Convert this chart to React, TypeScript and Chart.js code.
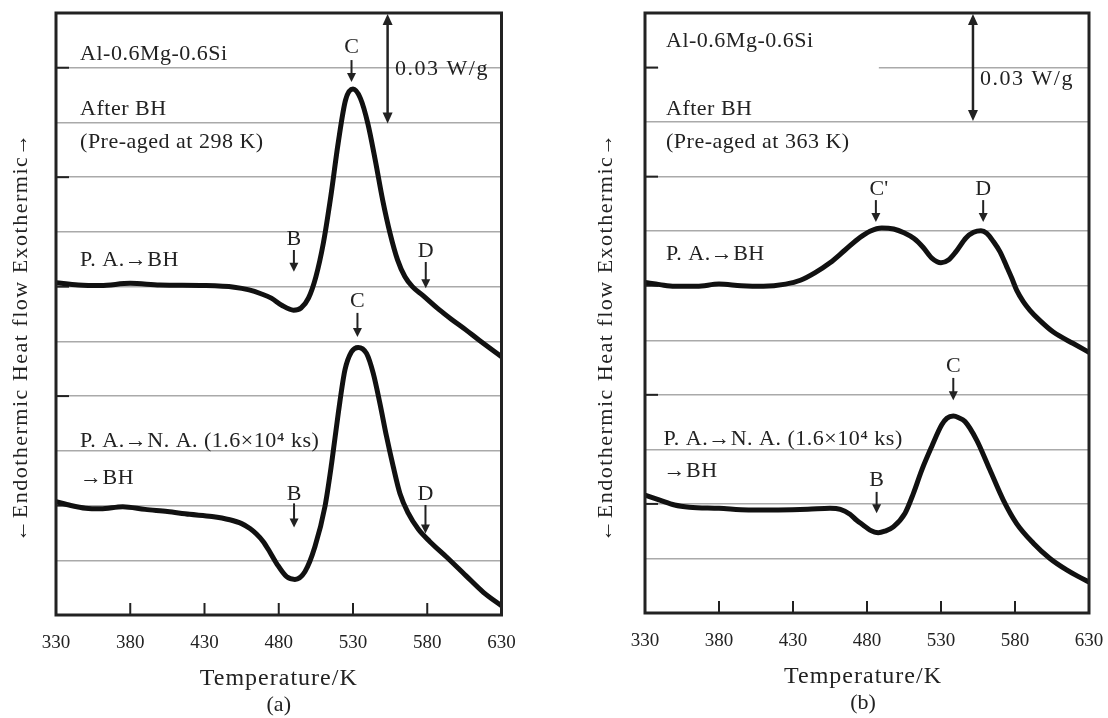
import React, { useEffect, useRef } from "react";
import { Chart, registerables } from "chart.js";

Chart.register(...registerables);

const FONT = "'Liberation Serif', 'DejaVu Serif', serif";
const INK = "#222";

// ---- axes ----
const TEMP_TICKS = [330, 380, 430, 480, 530, 580, 630];
const V_MIN = 0;
const V_MAX = 11;
const MAJOR_Y = [2, 4, 6, 8, 10];

// ---- (a) Pre-aged at 298 K ----
const A_UP_T = [330, 345, 360, 380, 400, 430, 450, 460, 468, 475, 482, 490, 495, 500, 505, 510, 515, 520, 525, 530, 535, 540, 545, 550, 555, 560, 565, 570, 577, 588, 596, 606, 615, 630];
const A_UP_V = [6.07, 6.03, 6.02, 6.06, 6.03, 6.02, 5.99, 5.94, 5.87, 5.79, 5.66, 5.57, 5.61, 5.79, 6.18, 6.79, 7.64, 8.62, 9.41, 9.61, 9.44, 8.98, 8.31, 7.58, 6.97, 6.49, 6.18, 6.0, 5.84, 5.58, 5.41, 5.21, 5.02, 4.72];
const A_LO_T = [330, 340, 350, 360, 375, 390, 405, 420, 435, 447, 455, 460.6, 465, 469.6, 474, 478.6, 485.3, 490.9, 497.6, 504.4, 511.1, 515.6, 520.1, 524.6, 529, 533.5, 539.1, 543.6, 548.1, 552.6, 557.1, 561.6, 567.2, 573.9, 581.8, 593, 606, 618, 630];
const A_LO_V = [2.07, 2.0, 1.95, 1.94, 1.98, 1.93, 1.89, 1.84, 1.8, 1.74, 1.67, 1.58, 1.48, 1.34, 1.15, 0.94, 0.7, 0.65, 0.79, 1.25, 1.98, 2.77, 3.69, 4.48, 4.81, 4.89, 4.78, 4.42, 3.87, 3.26, 2.71, 2.22, 1.86, 1.57, 1.34, 1.06, 0.72, 0.41, 0.17];

// ---- (b) Pre-aged at 363 K ----
const B_UP_T = [330, 340, 350, 365, 380, 395, 410, 425, 435, 445, 455, 465, 475, 482, 490, 498, 505, 512, 518, 524, 530, 535, 540, 547, 552, 557, 561, 565.4, 569.9, 574.4, 577.8, 581.1, 585.6, 590.1, 596.9, 605.9, 619.4, 630];
const B_UP_V = [6.06, 6.02, 5.99, 5.99, 6.03, 6.0, 5.99, 6.03, 6.1, 6.24, 6.42, 6.65, 6.88, 7.0, 7.06, 7.04, 6.97, 6.86, 6.7, 6.5, 6.42, 6.47, 6.62, 6.88, 6.98, 7.01, 6.96, 6.81, 6.62, 6.35, 6.14, 5.92, 5.71, 5.55, 5.36, 5.15, 4.94, 4.78];
const B_LO_T = [330, 340, 350, 360, 380, 400, 420, 440, 455, 462, 468.5, 473, 477.5, 482, 487.6, 492, 497.8, 505.7, 511.3, 517, 523.7, 530.5, 534, 538.3, 542, 546.2, 554.1, 563.1, 572.1, 581.1, 592.4, 603.6, 614.9, 622, 630];
const B_LO_V = [2.16, 2.07, 1.98, 1.94, 1.92, 1.89, 1.89, 1.9, 1.92, 1.9, 1.81, 1.7, 1.61, 1.52, 1.47, 1.5, 1.58, 1.83, 2.19, 2.62, 3.05, 3.45, 3.57, 3.61, 3.58, 3.51, 3.17, 2.62, 2.07, 1.64, 1.28, 1.0, 0.79, 0.68, 0.57];

// ---- annotations (data coordinates) ----
const A_TEXTS = [
  { s: "Al-0.6Mg-0.6Si", t: 346.2, v: 10.14 },
  { s: "After BH", t: 346.2, v: 9.14 },
  { s: "(Pre-aged at 298 K)", t: 346.2, v: 8.53 },
  { s: "P. A.→BH", t: 346.2, v: 6.38 },
  { s: "P. A.→N. A. (1.6×10⁴ ks)", t: 346.2, v: 3.07 },
  { s: "→BH", t: 346.2, v: 2.39 },
];
const B_TEXTS = [
  { s: "Al-0.6Mg-0.6Si", t: 344.2, v: 10.38 },
  { s: "After BH", t: 344.2, v: 9.13 },
  { s: "(Pre-aged at 363 K)", t: 344.2, v: 8.52 },
  { s: "P. A.→BH", t: 344.2, v: 6.47 },
  { s: "P. A.→N. A. (1.6×10⁴ ks)", t: 342.5, v: 3.08 },
  { s: "→BH", t: 342.5, v: 2.49 },
];
const A_MARKS = [
  { s: "C", t: 529, label: 10.27, top: 10.14, tip: 9.74 },
  { s: "B", t: 490.2, label: 6.76, top: 6.67, tip: 6.27 },
  { s: "D", t: 579, label: 6.54, top: 6.45, tip: 5.97 },
  { s: "C", t: 533, label: 5.63, top: 5.52, tip: 5.08 },
  { s: "B", t: 490.3, label: 2.1, top: 2.04, tip: 1.6 },
  { s: "D", t: 578.8, label: 2.1, top: 2.01, tip: 1.49 },
];
const B_MARKS = [
  { s: "C'", t: 486, label: 7.66, top: 7.57, tip: 7.17 },
  { s: "D", t: 558.5, label: 7.66, top: 7.57, tip: 7.17 },
  { s: "C", t: 538.3, label: 4.42, top: 4.31, tip: 3.9 },
  { s: "B", t: 486.5, label: 2.33, top: 2.22, tip: 1.83 },
];
const A_SCALE_BAR = { t: 553.3, from: 11, to: 8.98, text: "0.03 W/g", textT: 558.3, textV: 9.87 };
const B_SCALE_BAR = { t: 551.6, from: 11, to: 9.02, text: "0.03 W/g", textT: 556.4, textV: 9.68 };
const B_GRID_GAP = { v: 10, t0: 339, t1: 488 };

const X_TITLE = "Temperature/K";
const Y_TITLE = "←Endothermic Heat flow Exothermic→";

type Panel = {
  up: [number[], number[]];
  lo: [number[], number[]];
  texts: { s: string; t: number; v: number }[];
  marks: { s: string; t: number; label: number; top: number; tip: number }[];
  bar: typeof A_SCALE_BAR;
  tag: string;
  yw: number;
  padR: number;
  xh: number;
  yTitleX: number;
  gap?: typeof B_GRID_GAP;
  tagShift: number;
};

const PANELS: Panel[] = [
  { up: [A_UP_T, A_UP_V], lo: [A_LO_T, A_LO_V], texts: A_TEXTS, marks: A_MARKS, bar: A_SCALE_BAR, tag: "(a)", yw: 56, padR: 52.5, xh: 103, yTitleX: 20, tagShift: 0 },
  { up: [B_UP_T, B_UP_V], lo: [B_LO_T, B_LO_V], texts: B_TEXTS, marks: B_MARKS, bar: B_SCALE_BAR, tag: "(b)", yw: 91, padR: 19, xh: 105, yTitleX: 51, gap: B_GRID_GAP, tagShift: -4 },
];

function txt(ctx: CanvasRenderingContext2D, s: string, x: number, y: number, size: number, spacing: number, align: CanvasTextAlign = "left") {
  ctx.save();
  ctx.font = `${size}px ${FONT}`;
  (ctx as any).letterSpacing = `${spacing}px`;
  ctx.textAlign = align;
  ctx.textBaseline = "alphabetic";
  ctx.fillStyle = INK;
  ctx.fillText(s, x, y);
  ctx.restore();
}

function arrowHead(ctx: CanvasRenderingContext2D, x: number, tipY: number, dir: number, len: number, hw: number) {
  ctx.beginPath();
  ctx.moveTo(x, tipY);
  ctx.lineTo(x - hw, tipY - dir * len);
  ctx.lineTo(x + hw, tipY - dir * len);
  ctx.closePath();
  ctx.fill();
}

function makePlugin(p: Panel) {
  return {
    id: "deco",
    beforeDatasetsDraw(chart: any) {
      const { ctx, scales, chartArea } = chart;
      const x = scales.x, y = scales.y;
      if (p.gap) {
        const yy = y.getPixelForValue(p.gap.v);
        ctx.save();
        ctx.fillStyle = "#fff";
        ctx.fillRect(x.getPixelForValue(p.gap.t0), yy - 2, x.getPixelForValue(p.gap.t1) - x.getPixelForValue(p.gap.t0), 4);
        ctx.restore();
      }
      ctx.save();
      ctx.strokeStyle = INK;
      ctx.lineWidth = 2;
      MAJOR_Y.forEach((v) => {
        const yy = y.getPixelForValue(v);
        ctx.beginPath();
        ctx.moveTo(chartArea.left, yy);
        ctx.lineTo(chartArea.left + 13, yy);
        ctx.stroke();
      });
      TEMP_TICKS.slice(1, -1).forEach((t) => {
        const xx = x.getPixelForValue(t);
        ctx.beginPath();
        ctx.moveTo(xx, chartArea.bottom);
        ctx.lineTo(xx, chartArea.bottom - 12);
        ctx.stroke();
      });
      ctx.restore();
    },
    afterDraw(chart: any) {
      const { ctx, scales, chartArea } = chart;
      const x = scales.x, y = scales.y;
      ctx.save();
      ctx.strokeStyle = INK;
      ctx.lineWidth = 3;
      ctx.strokeRect(chartArea.left, chartArea.top, chartArea.right - chartArea.left, chartArea.bottom - chartArea.top);
      ctx.restore();

      p.texts.forEach((o) => txt(ctx, o.s, x.getPixelForValue(o.t), y.getPixelForValue(o.v), 22, 0.5));

      ctx.save();
      ctx.strokeStyle = INK;
      ctx.fillStyle = INK;
      p.marks.forEach((m) => {
        const xx = x.getPixelForValue(m.t);
        txt(ctx, m.s, xx + (m.s.length > 1 ? 3 : 0), y.getPixelForValue(m.label), 22, 0, "center");
        const y0 = y.getPixelForValue(m.top);
        const y1 = y.getPixelForValue(m.tip);
        ctx.lineWidth = 2;
        ctx.beginPath();
        ctx.moveTo(xx, y0);
        ctx.lineTo(xx, y1 - 6);
        ctx.stroke();
        arrowHead(ctx, xx, y1, 1, 9, 4.5);
      });

      const bx = x.getPixelForValue(p.bar.t);
      const by0 = y.getPixelForValue(p.bar.from);
      const by1 = y.getPixelForValue(p.bar.to);
      ctx.lineWidth = 2.5;
      ctx.beginPath();
      ctx.moveTo(bx, by0 + 8);
      ctx.lineTo(bx, by1 - 8);
      ctx.stroke();
      arrowHead(ctx, bx, by0 + 1, -1, 11, 5);
      arrowHead(ctx, bx, by1, 1, 11, 5);
      ctx.restore();
      txt(ctx, p.bar.text, x.getPixelForValue(p.bar.textT), y.getPixelForValue(p.bar.textV), 22, 1.5);

      const cx = (chartArea.left + chartArea.right) / 2 + p.tagShift;
      txt(ctx, X_TITLE, cx, chartArea.bottom + 70, 24, 1, "center");
      txt(ctx, p.tag, cx, chartArea.bottom + 96, 22, 0, "center");
      ctx.save();
      ctx.translate(p.yTitleX, 337);
      ctx.rotate(-Math.PI / 2);
      txt(ctx, Y_TITLE, 0, 7, 22, 1.5, "center");
      ctx.restore();
    },
  };
}

function PanelChart({ p }: { p: Panel }) {
  const ref = useRef<HTMLCanvasElement | null>(null);
  useEffect(() => {
    if (!ref.current) return;
    const line = (s: [number[], number[]]) => ({
      data: s[0].map((t, i) => ({ x: t, y: s[1][i] })),
      borderColor: "#111",
      borderWidth: 5,
      pointRadius: 0,
      fill: false,
      cubicInterpolationMode: "monotone" as const,
      borderCapStyle: "round" as const,
      borderJoinStyle: "round" as const,
    });
    const chart = new Chart(ref.current, {
      type: "line",
      data: { datasets: [line(p.up), line(p.lo)] as any },
      options: {
        responsive: false,
        animation: false,
        devicePixelRatio: 1,
        layout: { padding: { left: 0, top: 13, right: p.padR, bottom: 0 } },
        plugins: { legend: { display: false }, tooltip: { enabled: false } },
        scales: {
          x: {
            type: "linear",
            min: TEMP_TICKS[0],
            max: TEMP_TICKS[TEMP_TICKS.length - 1],
            afterBuildTicks: (s: any) => {
              s.ticks = TEMP_TICKS.map((v) => ({ value: v }));
            },
            ticks: { font: { family: FONT, size: 19 }, color: INK, padding: 9, maxRotation: 0, autoSkip: false },
            grid: { display: false },
            border: { display: false },
            afterFit: (s: any) => {
              s.height = p.xh;
              s.paddingLeft = 0;
              s.paddingRight = 0;
            },
          },
          y: {
            type: "linear",
            min: V_MIN,
            max: V_MAX,
            ticks: { display: false, stepSize: 1 },
            grid: { color: "#aaa", lineWidth: 1.5, drawTicks: false },
            border: { display: false },
            afterFit: (s: any) => {
              s.width = p.yw;
            },
          },
        },
      },
      plugins: [makePlugin(p)],
    });
    return () => chart.destroy();
  }, [p]);
  return <canvas ref={ref} width={554} height={718} style={{ display: "block", width: 554, height: 718 }} />;
}

export default function App() {
  return (
    <div style={{ position: "absolute", left: 0, top: 0, width: 1108, height: 718, display: "flex", background: "#fff" }}>
      {PANELS.map((p, i) => (
        <PanelChart key={i} p={p} />
      ))}
    </div>
  );
}
